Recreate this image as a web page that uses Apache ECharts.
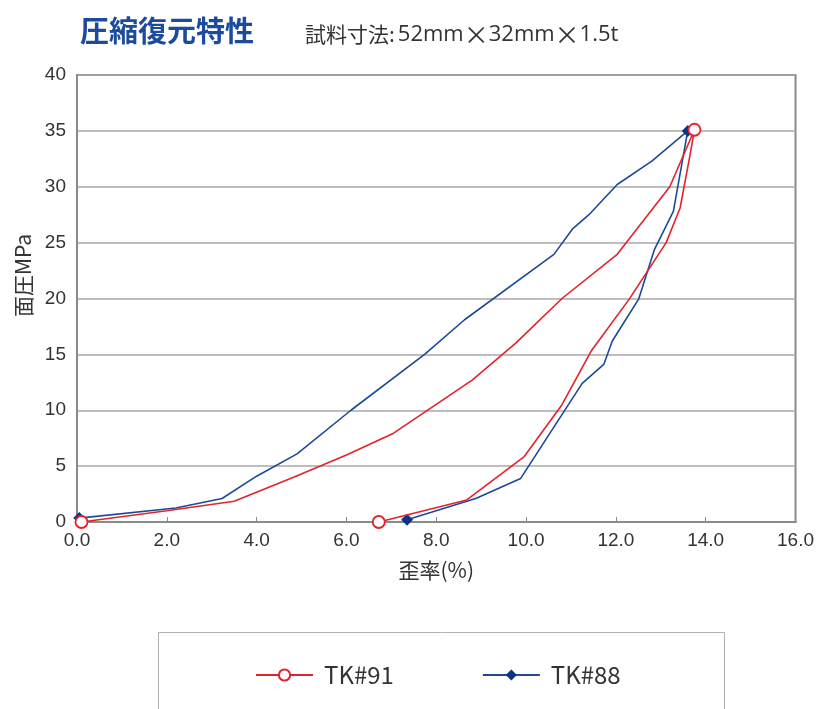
<!DOCTYPE html>
<html>
<head>
<meta charset="utf-8">
<script src="https://cdn.jsdelivr.net/npm/echarts@6/dist/echarts.min.js"></script>
<style>
html,body{margin:0;padding:0;background:#fff;}
#chart{width:817px;height:709px;}
</style>
</head>
<body>
<div id="chart"></div>
<script>
const titleText = '圧縮復元特性';
const subtitleParts = ['試料寸法:', '52mm', '×', '32mm', '×', '1.5t'];
const xAxisName = '歪率(%)';
const yAxisName = '面圧MPa';
const seriesNames = ['TK#91', 'TK#88'];

// TK#91 : [strain %, pressure MPa] (loading then unloading)
const tk91 = [
  [0.1, 0], [2.0, 1.0], [3.5, 1.85], [4.85, 4.05], [6.0, 6.0], [7.05, 7.95],
  [8.8, 12.7], [9.77, 16.0], [10.8, 20.0], [12.03, 23.95], [13.2, 30.0], [13.75, 35.1],
  [13.65, 32.8], [13.43, 28.1], [13.12, 25.0], [12.29, 19.9], [11.45, 15.3],
  [10.8, 10.5], [9.96, 5.86], [8.68, 1.97], [6.72, 0]
];
// TK#88
const tk88 = [
  [0.05, 0.35], [2.2, 1.25], [3.23, 2.1], [4.0, 4.1], [4.9, 6.1], [6.1, 10.0],
  [7.74, 15.0], [8.63, 18.1], [10.62, 23.95], [11.03, 26.2], [11.4, 27.5],
  [12.03, 30.2], [12.8, 32.3], [13.6, 35.0],
  [13.28, 27.8], [12.86, 24.4], [12.51, 19.97], [11.92, 16.2], [11.73, 14.1],
  [11.25, 12.4], [9.88, 3.9], [8.88, 2.1], [7.35, 0.2]
];

const RED = '#e2232b';
const BLUE = '#1b4a97';
const BLUE_MARK = '#083585';

function markerIdx(arr) {
  let peak = 0;
  arr.forEach((p, i) => { if (p[1] > arr[peak][1]) peak = i; });
  return [0, peak, arr.length - 1];
}
const redMarks = markerIdx(tk91);
const blueMarks = markerIdx(tk88);

const cjk = '"Noto Sans CJK JP", "Noto Sans", sans-serif';
const num = '"Liberation Sans", Arial, sans-serif';
const subtitleRich = subtitleParts.map((s, i) =>
  i === 0 ? '{c|' + s + '}' : (s === '×' ? '{x|' + s + '}' : '{l|' + s + '}')).join('');

const chart = echarts.init(document.getElementById('chart'));
chart.setOption({
  animation: false,
  backgroundColor: '#fff',
  title: [
    { text: titleText, left: 75, top: 11,
      textStyle: { fontSize: 29, fontWeight: 'bold', color: '#1c4a9c', fontFamily: cjk } },
    { text: subtitleRich, left: 300, top: 17,
      textStyle: {
        fontWeight: 'normal',
        rich: {
          c: { fontSize: 21, fontWeight: 'normal', color: '#333', fontFamily: cjk, padding: [0, 3, 0, 0] },
          l: { fontSize: 22, fontWeight: 'normal', color: '#333', fontFamily: '"Open Sans", sans-serif' },
          x: { fontSize: 25, fontWeight: 'normal', color: '#333', fontFamily: cjk, padding: [0, 0, 0, 0] }
        }
      } }
  ],
  grid: { left: 77, top: 75, right: 18, bottom: 187, show: true, borderColor: '#8a8a8a', borderWidth: 2 },
  xAxis: {
    type: 'value', min: 0, max: 16, interval: 2,
    name: xAxisName, nameLocation: 'middle', nameGap: 38,
    nameTextStyle: { fontSize: 21, color: '#333', fontFamily: cjk },
    axisLine: { show: true, lineStyle: { color: '#8a8a8a', width: 2 } },
    axisTick: { show: true, inside: true, length: 5, lineStyle: { color: '#8a8a8a', width: 1 } },
    splitLine: { show: false },
    axisLabel: { fontSize: 19, color: '#333', margin: 9, fontFamily: num,
      formatter: v => v.toFixed(1) }
  },
  yAxis: {
    type: 'value', min: 0, max: 40, interval: 5,
    name: yAxisName, nameLocation: 'middle', nameGap: 41, nameRotate: 90,
    nameTextStyle: { fontSize: 21, color: '#333', fontFamily: cjk, padding: [0, 0, 0, 46] },
    axisLine: { show: true, lineStyle: { color: '#8a8a8a', width: 2 } },
    axisTick: { show: false },
    splitLine: { show: true, lineStyle: { color: '#a8a8a8', width: 1.5 } },
    axisLabel: { fontSize: 19, color: '#333', margin: 11, fontFamily: num }
  },
  legend: {
    data: seriesNames,
    left: 250, top: 658,
    itemWidth: 57, itemHeight: 14, itemGap: 88,
    textStyle: { fontSize: 24, color: '#333', fontFamily: cjk, padding: [0, 0, 0, 6] }
  },
  graphic: [
    { type: 'rect', left: 156, top: 630, shape: { width: 566, height: 100 },
      style: { fill: 'none', stroke: '#b0b0b0', lineWidth: 1 }, z: -1 }
  ],
  series: [
    {
      name: seriesNames[0], type: 'line', data: tk91, z: 3,
      lineStyle: { color: RED, width: 1.6 },
      itemStyle: { color: '#fff', borderColor: RED, borderWidth: 1.8 },
      symbol: 'circle',
      symbolSize: (v, p) => redMarks.includes(p.dataIndex) ? 12 : 0,
      showAllSymbol: true
    },
    {
      name: seriesNames[1], type: 'line', data: tk88, z: 2,
      lineStyle: { color: BLUE, width: 1.6 },
      itemStyle: { color: BLUE_MARK, borderColor: BLUE_MARK, borderWidth: 0 },
      symbol: 'diamond',
      symbolSize: (v, p) => blueMarks.includes(p.dataIndex) ? 12 : 0,
      showAllSymbol: true
    }
  ]
});
</script>
</body>
</html>
